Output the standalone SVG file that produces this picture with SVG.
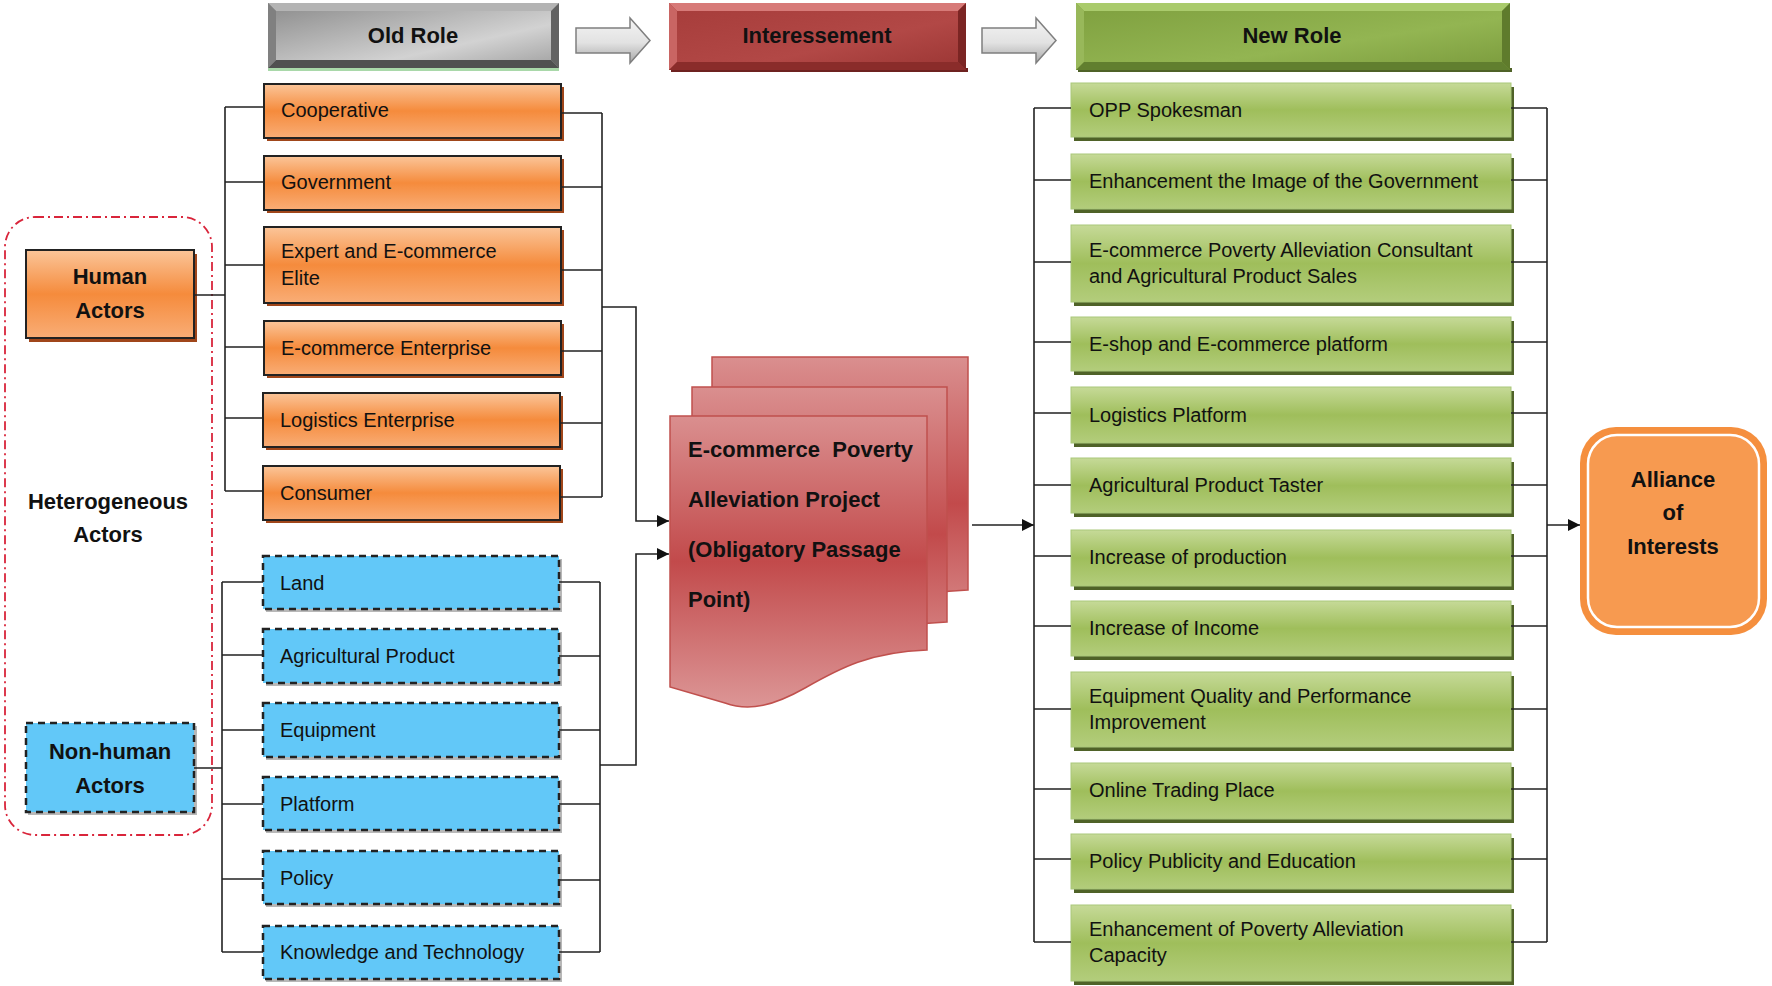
<svg xmlns="http://www.w3.org/2000/svg" width="1772" height="986" viewBox="0 0 1772 986">
<defs>
<style>
text{font-family:"Liberation Sans",Arial,sans-serif;fill:#111;}
.t{font-size:20px;}
.b{font-size:22px;font-weight:bold;}
.c{text-anchor:middle;}
.pre{white-space:pre;}
.ln{stroke:#222;stroke-width:1.6;fill:none;}
.org{fill:url(#gOrg);stroke:#222;stroke-width:2;}
.orgS{fill:#a0461a;}
.blu{fill:#62c8f8;stroke:#222;stroke-width:2.5;stroke-dasharray:7 5;}
.bluS{fill:#9a9a9a;opacity:0.7;}
.grn{fill:url(#gGrn);stroke:#a9c77a;stroke-width:1;}
.grnS{fill:#4f6228;}
.doc{fill:url(#gDoc);stroke:#c0504d;stroke-width:1.5;}
.barr{fill:url(#gArr);stroke:#7f7f7f;stroke-width:1.5;}
</style>
<linearGradient id="gOrg" x1="0" y1="0" x2="0" y2="1">
<stop offset="0" stop-color="#fbc599"/><stop offset="0.5" stop-color="#f58b3c"/><stop offset="1" stop-color="#f9ad76"/>
</linearGradient>
<linearGradient id="gGrn" x1="0" y1="0" x2="0" y2="1">
<stop offset="0" stop-color="#c6da98"/><stop offset="0.5" stop-color="#9fbe5b"/><stop offset="1" stop-color="#b3cd7c"/>
</linearGradient>
<linearGradient id="gDoc" x1="0" y1="0" x2="0" y2="1">
<stop offset="0" stop-color="#da8f8f"/><stop offset="0.5" stop-color="#c24a4b"/><stop offset="1" stop-color="#dc9696"/>
</linearGradient>
<linearGradient id="gArr" x1="0" y1="0" x2="0" y2="1">
<stop offset="0" stop-color="#f4f4f4"/><stop offset="0.55" stop-color="#e2e2e2"/><stop offset="1" stop-color="#a8a8a8"/>
</linearGradient>
<linearGradient id="gGray" x1="0" y1="0" x2="1" y2="1">
<stop offset="0" stop-color="#8a8a8a"/><stop offset="0.65" stop-color="#d2d2d2"/><stop offset="1" stop-color="#9e9e9e"/>
</linearGradient>
<linearGradient id="gRed" x1="0" y1="0" x2="1" y2="1">
<stop offset="0" stop-color="#a63c3a"/><stop offset="0.6" stop-color="#b24846"/><stop offset="1" stop-color="#9a3533"/>
</linearGradient>
<linearGradient id="gGreenH" x1="0" y1="0" x2="1" y2="1">
<stop offset="0" stop-color="#7e9f3e"/><stop offset="0.6" stop-color="#93b552"/><stop offset="1" stop-color="#7a9a3c"/>
</linearGradient>
<marker id="ah2" viewBox="0 0 10 10" refX="10" refY="5" markerWidth="12" markerHeight="12" markerUnits="userSpaceOnUse" orient="auto">
<path d="M0,0 L10,5 L0,10 z" fill="#111"/>
</marker>
</defs>
<rect x="0" y="0" width="1772" height="986" fill="#ffffff"/>

<!-- Headers -->
<g id="hdr-old">
<rect x="268" y="68" width="291" height="3" fill="#a9d8a9"/>
<rect x="268" y="3" width="291" height="65" fill="url(#gGray)"/>
<polygon points="268,3 559,3 551,11 276,11" fill="#b4b4b4"/>
<polygon points="268,3 276,11 276,60 268,68" fill="#808080"/>
<polygon points="559,3 559,68 551,60 551,11" fill="#626262"/>
<polygon points="268,68 276,60 551,60 559,68" fill="#505050"/>
<text class="b c" x="413" y="43">Old Role</text>
</g>
<g id="arrow1">
<polygon class="barr" points="576,28 630,28 630,18 650,40.5 630,63 630,53 576,53"/>
</g>
<g id="hdr-inter">
<rect x="671" y="68" width="297" height="4" fill="#6e2220"/>
<rect x="669" y="3" width="297" height="67" fill="url(#gRed)"/>
<polygon points="669,3 966,3 958,11 677,11" fill="#d77a78"/>
<polygon points="669,3 677,11 677,62 669,70" fill="#c96563"/>
<polygon points="966,3 966,70 958,62 958,11" fill="#7b2523"/>
<polygon points="669,70 677,62 958,62 966,70" fill="#8a2c2a"/>
<text class="b c" x="817" y="43">Interessement</text>
</g>
<g id="arrow2">
<polygon class="barr" points="982,28 1036,28 1036,18 1056,40.5 1036,63 1036,53 982,53"/>
</g>
<g id="hdr-new">
<rect x="1078" y="68" width="434" height="4" fill="#4f6228"/>
<rect x="1076" y="3" width="434" height="67" fill="url(#gGreenH)"/>
<polygon points="1076,3 1510,3 1502,11 1084,11" fill="#aacb6c"/>
<polygon points="1076,3 1084,11 1084,62 1076,70" fill="#98b85a"/>
<polygon points="1510,3 1510,70 1502,62 1502,11" fill="#5f7b2c"/>
<polygon points="1076,70 1084,62 1502,62 1510,70" fill="#617f2f"/>
<text class="b c" x="1292" y="43">New Role</text>
</g>

<!-- Heterogeneous group -->
<g id="heterogeneous">
<rect x="5" y="217" width="207" height="618" rx="30" ry="30" fill="none" stroke="#d9253b" stroke-width="1.8" stroke-dasharray="9 4 2 4"/>
<text class="b c" x="108" y="509">Heterogeneous</text>
<text class="b c" x="108" y="542">Actors</text>
</g>
<g id="human-actors">
<rect class="orgS" x="29" y="254" width="168" height="88"/>
<rect class="org" x="26" y="250" width="168" height="88"/>
<text class="b c" x="110" y="284">Human</text>
<text class="b c" x="110" y="318">Actors</text>
</g>
<g id="nonhuman-actors">
<rect class="bluS" x="28" y="726" width="169" height="89"/>
<rect class="blu" x="26" y="723" width="168" height="89"/>
<text class="b c" x="110" y="759">Non-human</text>
<text class="b c" x="110" y="793">Actors</text>
</g>

<!-- Orange old roles -->
<g id="o-cooperative"><rect class="orgS" x="267" y="87" width="297" height="54"/><rect class="org" x="264" y="84" width="297" height="54"/><text class="t" x="281" y="117">Cooperative</text></g>
<g id="o-government"><rect class="orgS" x="267" y="159" width="297" height="54"/><rect class="org" x="264" y="156" width="297" height="54"/><text class="t" x="281" y="189">Government</text></g>
<g id="o-expert"><rect class="orgS" x="267" y="230" width="297" height="76"/><rect class="org" x="264" y="227" width="297" height="76"/><text class="t" x="281" y="258">Expert and E-commerce</text><text class="t" x="281" y="285">Elite</text></g>
<g id="o-ecommerce"><rect class="orgS" x="267" y="324" width="297" height="54"/><rect class="org" x="264" y="321" width="297" height="54"/><text class="t" x="281" y="355">E-commerce Enterprise</text></g>
<g id="o-logistics"><rect class="orgS" x="266" y="396" width="297" height="54"/><rect class="org" x="263" y="393" width="297" height="54"/><text class="t" x="280" y="427">Logistics Enterprise</text></g>
<g id="o-consumer"><rect class="orgS" x="266" y="469" width="297" height="54"/><rect class="org" x="263" y="466" width="297" height="54"/><text class="t" x="280" y="500">Consumer</text></g>

<!-- Blue old roles -->
<g id="b-land"><rect class="bluS" x="266" y="559" width="296" height="53"/><rect class="blu" x="263" y="556" width="296" height="53"/><text class="t" x="280" y="590">Land</text></g>
<g id="b-agri"><rect class="bluS" x="266" y="632" width="296" height="54"/><rect class="blu" x="263" y="629" width="296" height="54"/><text class="t" x="280" y="663">Agricultural Product</text></g>
<g id="b-equip"><rect class="bluS" x="266" y="706" width="296" height="54"/><rect class="blu" x="263" y="703" width="296" height="54"/><text class="t" x="280" y="737">Equipment</text></g>
<g id="b-platform"><rect class="bluS" x="266" y="780" width="296" height="53"/><rect class="blu" x="263" y="777" width="296" height="53"/><text class="t" x="280" y="811">Platform</text></g>
<g id="b-policy"><rect class="bluS" x="266" y="854" width="296" height="53"/><rect class="blu" x="263" y="851" width="296" height="53"/><text class="t" x="280" y="885">Policy</text></g>
<g id="b-knowledge"><rect class="bluS" x="266" y="929" width="296" height="53"/><rect class="blu" x="263" y="926" width="296" height="53"/><text class="t" x="280" y="959">Knowledge and Technology</text></g>

<!-- OPP document -->
<g id="opp">
<path class="doc" d="M712,357 L968,357 L968,590 C 910,592 880,610 850,630 C 820,650 790,656 760,642 L712,622 Z"/>
<path class="doc" d="M692,387 L947,387 L947,622 C 890,624 860,642 830,662 C 800,682 770,688 740,674 L692,654 Z"/>
<path class="doc" d="M670,416 L927,416 L927,650 C 870,652 840,668 805,688 C 775,705 750,712 725,703 L670,687 Z"/>
<text class="b pre" x="688" y="457" xml:space="preserve">E-commerce  Poverty</text>
<text class="b" x="688" y="507">Alleviation Project</text>
<text class="b" x="688" y="557">(Obligatory Passage</text>
<text class="b" x="688" y="607">Point)</text>
</g>

<!-- Green new roles -->
<g id="g1"><rect class="grnS" x="1074" y="87" width="440" height="54"/><rect class="grn" x="1071" y="83" width="440" height="54"/><text class="t" x="1089" y="117">OPP Spokesman</text></g>
<g id="g2"><rect class="grnS" x="1074" y="158" width="440" height="55"/><rect class="grn" x="1071" y="154" width="440" height="55"/><text class="t" x="1089" y="188">Enhancement the Image of the Government</text></g>
<g id="g3"><rect class="grnS" x="1074" y="229" width="440" height="77"/><rect class="grn" x="1071" y="225" width="440" height="77"/><text class="t" x="1089" y="257">E-commerce Poverty Alleviation Consultant</text><text class="t" x="1089" y="283">and Agricultural Product Sales</text></g>
<g id="g4"><rect class="grnS" x="1074" y="321" width="440" height="54"/><rect class="grn" x="1071" y="317" width="440" height="54"/><text class="t" x="1089" y="351">E-shop and E-commerce platform</text></g>
<g id="g5"><rect class="grnS" x="1074" y="391" width="440" height="56"/><rect class="grn" x="1071" y="387" width="440" height="56"/><text class="t" x="1089" y="422">Logistics Platform</text></g>
<g id="g6"><rect class="grnS" x="1074" y="462" width="440" height="55"/><rect class="grn" x="1071" y="458" width="440" height="55"/><text class="t" x="1089" y="492">Agricultural Product Taster</text></g>
<g id="g7"><rect class="grnS" x="1074" y="534" width="440" height="56"/><rect class="grn" x="1071" y="530" width="440" height="56"/><text class="t" x="1089" y="564">Increase of production</text></g>
<g id="g8"><rect class="grnS" x="1074" y="605" width="440" height="55"/><rect class="grn" x="1071" y="601" width="440" height="55"/><text class="t" x="1089" y="635">Increase of Income</text></g>
<g id="g9"><rect class="grnS" x="1074" y="676" width="440" height="75"/><rect class="grn" x="1071" y="672" width="440" height="75"/><text class="t" x="1089" y="703">Equipment Quality and Performance</text><text class="t" x="1089" y="729">Improvement</text></g>
<g id="g10"><rect class="grnS" x="1074" y="767" width="440" height="56"/><rect class="grn" x="1071" y="763" width="440" height="56"/><text class="t" x="1089" y="797">Online Trading Place</text></g>
<g id="g11"><rect class="grnS" x="1074" y="838" width="440" height="55"/><rect class="grn" x="1071" y="834" width="440" height="55"/><text class="t" x="1089" y="868">Policy Publicity and Education</text></g>
<g id="g12"><rect class="grnS" x="1074" y="909" width="440" height="76"/><rect class="grn" x="1071" y="905" width="440" height="76"/><text class="t" x="1089" y="936">Enhancement of Poverty Alleviation</text><text class="t" x="1089" y="962">Capacity</text></g>

<!-- Alliance -->
<g id="alliance">
<rect x="1580" y="427" width="187" height="208" rx="36" ry="36" fill="#f58f3e"/>
<rect x="1588" y="435" width="171" height="192" rx="29" ry="29" fill="#f79a50" stroke="#ffffff" stroke-width="2.5"/>
<text class="b c" x="1673" y="487">Alliance</text>
<text class="b c" x="1673" y="520">of</text>
<text class="b c" x="1673" y="554">Interests</text>
</g>

<!-- Connectors -->
<g id="connectors">
<path class="ln" d="M194,295 H225 M225,107 V491 M225,107 H264 M225,182 H264 M225,265 H264 M225,347 H264 M225,418 H263 M225,491 H263"/>
<path class="ln" d="M561,113 H602 M561,187 H602 M561,270 H602 M561,351 H602 M560,423 H602 M560,497 H602 M602,113 V497"/>
<path class="ln" d="M602,307 H636 V521 H669" marker-end="url(#ah2)"/>
<path class="ln" d="M194,768 H222 M222,582 V952 M222,582 H263 M222,655 H263 M222,730 H263 M222,804 H263 M222,879 H263 M222,952 H263"/>
<path class="ln" d="M559,582 H600 M559,656 H600 M559,730 H600 M559,804 H600 M559,880 H600 M559,952 H600 M600,582 V952"/>
<path class="ln" d="M600,765 H636 V554 H669" marker-end="url(#ah2)"/>
<path class="ln" d="M972,525 H1034" marker-end="url(#ah2)"/>
<path class="ln" d="M1034,108 V942 M1034,108 H1071 M1034,180 H1071 M1034,262 H1071 M1034,342 H1071 M1034,413 H1071 M1034,485 H1071 M1034,556 H1071 M1034,626 H1071 M1034,709 H1071 M1034,789 H1071 M1034,859 H1071 M1034,942 H1071"/>
<path class="ln" d="M1511,108 H1547 M1511,180 H1547 M1511,262 H1547 M1511,342 H1547 M1511,413 H1547 M1511,485 H1547 M1511,556 H1547 M1511,626 H1547 M1511,709 H1547 M1511,789 H1547 M1511,859 H1547 M1511,942 H1547 M1547,108 V942"/>
<path class="ln" d="M1547,525 H1580" marker-end="url(#ah2)"/>
</g>
</svg>
